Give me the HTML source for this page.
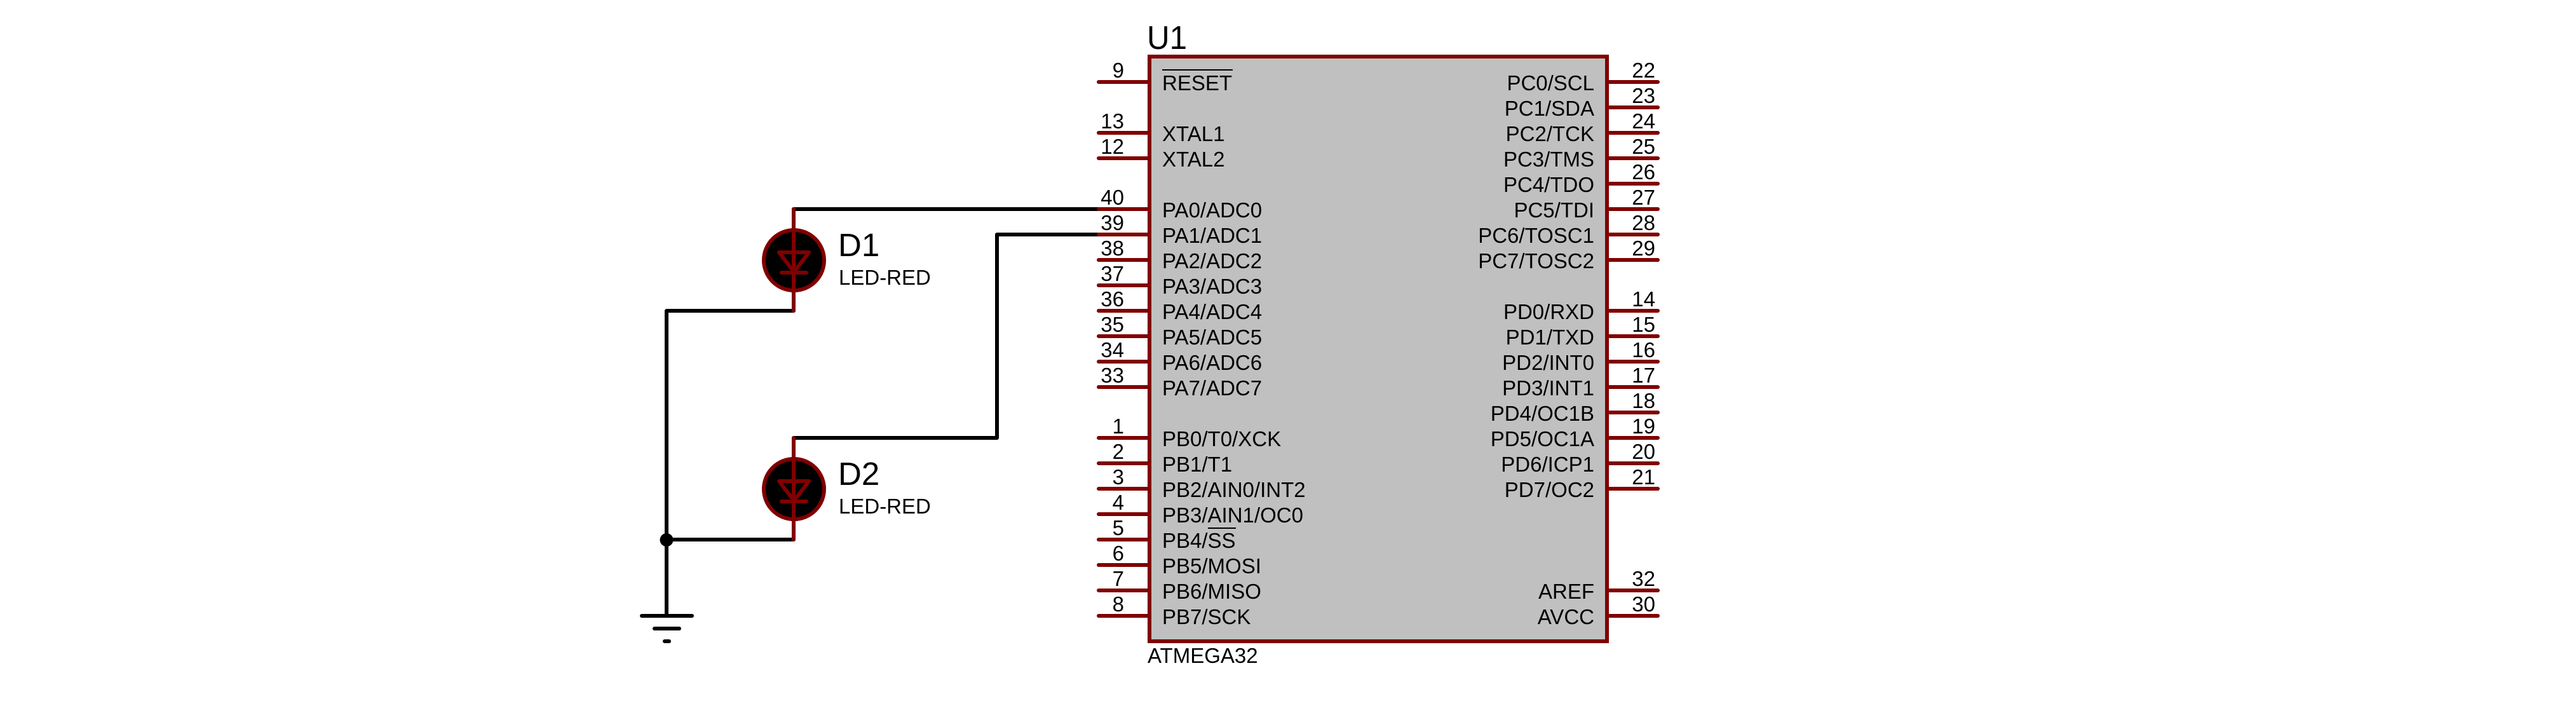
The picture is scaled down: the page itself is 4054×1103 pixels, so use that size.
<!DOCTYPE html>
<html>
<head>
<meta charset="utf-8">
<title>ATMEGA32 LED schematic</title>
<style>
html,body{margin:0;padding:0;background:#fff;}
svg{display:block;}
text{font-family:"Liberation Sans",Arial,sans-serif;fill:#000;}
.l text{font-size:33px;}
.e text{font-size:33px;text-anchor:end;}
</style>
</head>
<body>
<svg xmlns="http://www.w3.org/2000/svg" width="4054" height="1103" viewBox="0 0 4054 1103">
<rect width="4054" height="1103" fill="#fff"/>

<!-- wires -->
<g fill="none" stroke="#000" stroke-width="6" stroke-linecap="round" stroke-linejoin="round">
<path d="M1249 329H1729"/>
<path d="M1249 689H1569V369H1729"/>
<path d="M1249 489H1049V969"/>
<path d="M1249 849H1049"/>
<path d="M1010 969H1089"/>
<path d="M1030 989H1069"/>
<path d="M1046 1009H1053"/>
</g>
<circle cx="1049" cy="849.5" r="10.5" fill="#000"/>

<!-- LEDs -->
<g fill="none" stroke="#800000" stroke-linecap="round" stroke-linejoin="round">
<circle cx="1249.5" cy="409.5" r="47.5" fill="#000" stroke-width="6"/>
<path d="M1249 329V489" stroke-width="6"/>
<path d="M1226 397H1273L1249.5 428Z" stroke-width="6"/>
<path d="M1230 429H1269" stroke-width="6"/>
<circle cx="1249.5" cy="769.5" r="47.5" fill="#000" stroke-width="6"/>
<path d="M1249 689V849" stroke-width="6"/>
<path d="M1226 757H1273L1249.5 788Z" stroke-width="6"/>
<path d="M1230 789H1269" stroke-width="6"/>
</g>

<!-- IC pins -->
<g fill="none" stroke="#800000" stroke-width="6" stroke-linecap="round">
<path d="M1729 129H1809M1729 209H1809M1729 249H1809M1729 329H1809M1729 369H1809M1729 409H1809M1729 449H1809M1729 489H1809M1729 529H1809M1729 569H1809M1729 609H1809"/>
<path d="M1729 689H1809M1729 729H1809M1729 769H1809M1729 809H1809M1729 849H1809M1729 889H1809M1729 929H1809M1729 969H1809"/>
<path d="M2529 129H2609M2529 169H2609M2529 209H2609M2529 249H2609M2529 289H2609M2529 329H2609M2529 369H2609M2529 409H2609"/>
<path d="M2529 489H2609M2529 529H2609M2529 569H2609M2529 609H2609M2529 649H2609M2529 689H2609M2529 729H2609M2529 769H2609"/>
<path d="M2529 929H2609M2529 969H2609"/>
</g>

<!-- IC body -->
<rect x="1809" y="89" width="720" height="920" fill="#c0c0c0" stroke="#800000" stroke-width="6"/>

<!-- Overbars -->
<rect x="1829" y="109" width="111" height="2" fill="#000"/>
<rect x="1901" y="830" width="44" height="2" fill="#000"/>

<!-- Component labels -->
<text x="1805" y="77" font-size="52" textLength="63" lengthAdjust="spacingAndGlyphs">U1</text>
<text x="1806" y="1043" font-size="33">ATMEGA32</text>
<text x="1319" y="403" font-size="51">D1</text>
<text x="1319" y="763" font-size="51">D2</text>
<text x="1320" y="448" font-size="33">LED-RED</text>
<text x="1320" y="808" font-size="33">LED-RED</text>

<!-- Left pin names -->
<g class="l">
<text x="1829" y="142">RESET</text>
<text x="1829" y="222">XTAL1</text>
<text x="1829" y="262">XTAL2</text>
<text x="1829" y="342">PA0/ADC0</text>
<text x="1829" y="382">PA1/ADC1</text>
<text x="1829" y="422">PA2/ADC2</text>
<text x="1829" y="462">PA3/ADC3</text>
<text x="1829" y="502">PA4/ADC4</text>
<text x="1829" y="542">PA5/ADC5</text>
<text x="1829" y="582">PA6/ADC6</text>
<text x="1829" y="622">PA7/ADC7</text>
<text x="1829" y="702">PB0/T0/XCK</text>
<text x="1829" y="742">PB1/T1</text>
<text x="1829" y="782">PB2/AIN0/INT2</text>
<text x="1829" y="822">PB3/AIN1/OC0</text>
<text x="1829" y="862">PB4/SS</text>
<text x="1829" y="902">PB5/MOSI</text>
<text x="1829" y="942">PB6/MISO</text>
<text x="1829" y="982">PB7/SCK</text>
</g>

<!-- Right pin names -->
<g class="e">
<text x="2509" y="142">PC0/SCL</text>
<text x="2509" y="182">PC1/SDA</text>
<text x="2509" y="222">PC2/TCK</text>
<text x="2509" y="262">PC3/TMS</text>
<text x="2509" y="302">PC4/TDO</text>
<text x="2509" y="342">PC5/TDI</text>
<text x="2509" y="382">PC6/TOSC1</text>
<text x="2509" y="422">PC7/TOSC2</text>
<text x="2509" y="502">PD0/RXD</text>
<text x="2509" y="542">PD1/TXD</text>
<text x="2509" y="582">PD2/INT0</text>
<text x="2509" y="622">PD3/INT1</text>
<text x="2509" y="662">PD4/OC1B</text>
<text x="2509" y="702">PD5/OC1A</text>
<text x="2509" y="742">PD6/ICP1</text>
<text x="2509" y="782">PD7/OC2</text>
<text x="2509" y="942">AREF</text>
<text x="2509" y="982">AVCC</text>
</g>

<!-- Left pin numbers -->
<g class="e">
<text x="1769" y="122">9</text>
<text x="1769" y="202">13</text>
<text x="1769" y="242">12</text>
<text x="1769" y="322">40</text>
<text x="1769" y="362">39</text>
<text x="1769" y="402">38</text>
<text x="1769" y="442">37</text>
<text x="1769" y="482">36</text>
<text x="1769" y="522">35</text>
<text x="1769" y="562">34</text>
<text x="1769" y="602">33</text>
<text x="1769" y="682">1</text>
<text x="1769" y="722">2</text>
<text x="1769" y="762">3</text>
<text x="1769" y="802">4</text>
<text x="1769" y="842">5</text>
<text x="1769" y="882">6</text>
<text x="1769" y="922">7</text>
<text x="1769" y="962">8</text>
</g>

<!-- Right pin numbers -->
<g class="e">
<text x="2605" y="122">22</text>
<text x="2605" y="162">23</text>
<text x="2605" y="202">24</text>
<text x="2605" y="242">25</text>
<text x="2605" y="282">26</text>
<text x="2605" y="322">27</text>
<text x="2605" y="362">28</text>
<text x="2605" y="402">29</text>
<text x="2605" y="482">14</text>
<text x="2605" y="522">15</text>
<text x="2605" y="562">16</text>
<text x="2605" y="602">17</text>
<text x="2605" y="642">18</text>
<text x="2605" y="682">19</text>
<text x="2605" y="722">20</text>
<text x="2605" y="762">21</text>
<text x="2605" y="922">32</text>
<text x="2605" y="962">30</text>
</g>
</svg>
</body>
</html>
